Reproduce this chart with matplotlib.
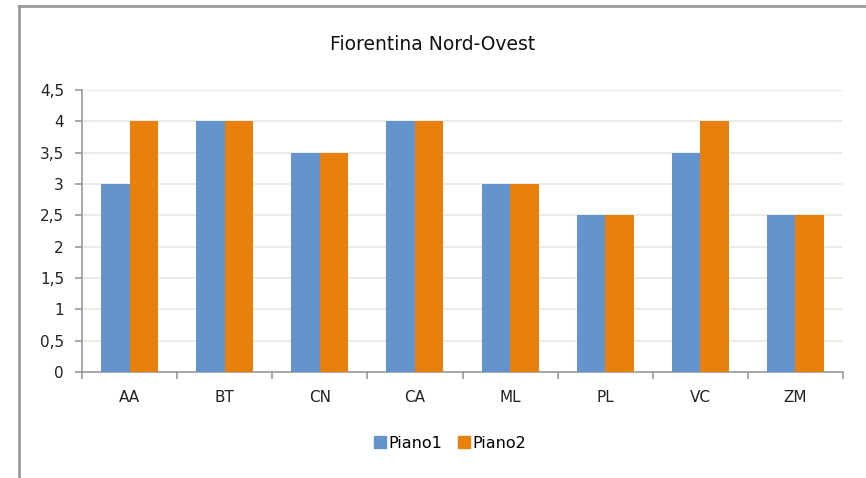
import matplotlib.pyplot as plt
import numpy as np
from matplotlib.lines import Line2D
from matplotlib.patches import Patch

plt.rcParams["font.family"] = ["DejaVu Sans"]

categories = ["AA", "BT", "CN", "CA", "ML", "PL", "VC", "ZM"]
piano1 = [3, 4, 3.5, 4, 3, 2.5, 3.5, 2.5]
piano2 = [4, 4, 3.5, 4, 3, 2.5, 4, 2.5]
yticks = [0, 0.5, 1, 1.5, 2, 2.5, 3, 3.5, 4, 4.5]
ytick_labels = ["0", "0,5", "1", "1,5", "2", "2,5", "3", "3,5", "4", "4,5"]

blue = "#6394cb"
orange = "#e8800d"

fig = plt.figure(figsize=(8.66, 4.78), dpi=100)
ax = fig.add_axes([82 / 866, 1 - 372 / 478, (843 - 82) / 866, (372 - 90) / 478])

x = np.arange(len(categories))
w = 0.3
ax.bar(x - w / 2, piano1, w, color=blue, label="Piano1", zorder=3)
ax.bar(x + w / 2, piano2, w, color=orange, label="Piano2", zorder=3)

ax.set_xlim(-0.5, len(categories) - 0.5)
ax.set_ylim(0, 4.5)
ax.set_yticks(yticks)
ax.set_yticklabels(ytick_labels, fontsize=11, color="#222222")
ax.set_xticks(x)
ax.set_xticklabels(categories, fontsize=11, color="#222222")
ax.set_xticks(np.arange(len(categories) + 1) - 0.5, minor=True)
ax.tick_params(axis="x", which="major", length=0, pad=13)
ax.tick_params(axis="x", which="minor", length=5, color="#999999", width=1.2)
ax.tick_params(axis="y", length=5, color="#999999", width=1.2, direction="out", pad=8)
ax.grid(axis="y", color="#e9e7df", linewidth=1.2, zorder=0)

for side in ["top", "right"]:
    ax.spines[side].set_visible(False)
ax.spines["left"].set_color("#999999")
ax.spines["bottom"].set_color("#999999")
ax.spines["left"].set_linewidth(1.2)
ax.spines["bottom"].set_linewidth(1.2)

fig.text(0.5, 1 - 45 / 478, "Fiorentina Nord-Ovest", ha="center", va="center",
         fontsize=13.5, color="#111111")

handles = [Patch(color=blue, label="Piano1"), Patch(color=orange, label="Piano2")]
fig.legend(handles=handles, loc="center", bbox_to_anchor=(450 / 866, 1 - 443 / 478),
           ncol=2, frameon=False, fontsize=11.5, handlelength=0.75, handleheight=0.75,
           handletextpad=0.15, columnspacing=1.0)

# chart border (only top and left edges fall inside the picture)
bx = 19 / 866
by = 1 - 6 / 478
fig.add_artist(Line2D([bx, 1], [by, by], color="#9a9a9a", lw=2,
                      transform=fig.transFigure))
fig.add_artist(Line2D([bx, bx], [0, by], color="#9a9a9a", lw=2,
                      transform=fig.transFigure))

fig.savefig("out.png", dpi=100)
